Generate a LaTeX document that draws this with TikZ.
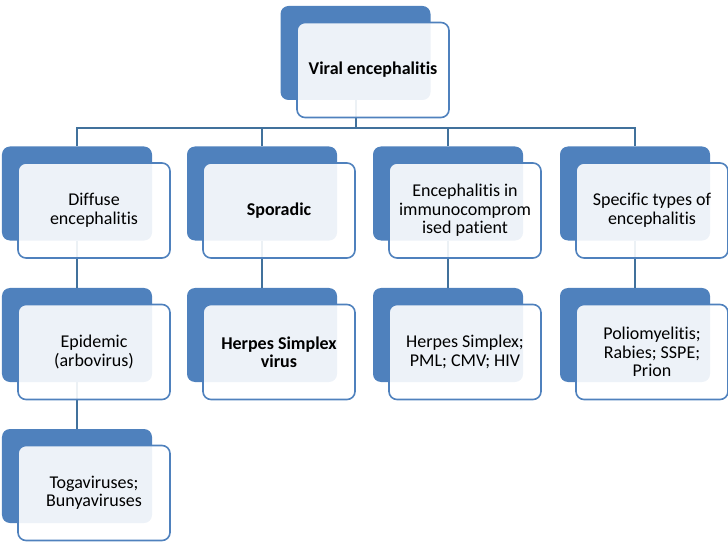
\documentclass[tikz,border=0pt]{standalone}
\usepackage{fontspec}
\setmainfont{Carlito}[Ligatures=NoCommon]
\usetikzlibrary{positioning, calc}
\definecolor{accentblue}{RGB}{79,129,189}
\definecolor{linkblue}{RGB}{65,113,156}
\tikzset{
    backbox/.style={
        rectangle, fill=accentblue,
        rounded corners=8bp,
        minimum width=150bp, minimum height=94bp,
        inner sep=0pt
    },
    frontbox/.style={
        rectangle, draw=accentblue, line width=1.6bp,
        fill=white, fill opacity=0.9, text opacity=1,
        rounded corners=8bp,
        minimum width=152bp, minimum height=95bp,
        align=center, font=\fontsize{18bp}{18.5bp}\selectfont
    },
    link/.style={
        draw=linkblue, line width=2bp
    }
}

\begin{document}
\begin{tikzpicture}[
    x=1bp, y=-1bp
]
\useasboundingbox (0,0) rectangle (728,546);

\node[backbox] (viralbk) at (355.5,53) {};

\node[backbox] (diffusebk) at (77,193.5) {};
\node[backbox] (sporadicbk) at (262,193.5) {};
\node[backbox] (immunobk) at (448,193.5) {};
\node[backbox] (specificbk) at (635,193.5) {};

\node[backbox] (epidemicbk) at (77,335) {};
\node[backbox] (hsvbk) at (262,335) {};
\node[backbox] (opportbk) at (448,335) {};
\node[backbox] (poliobk) at (635,335) {};

\node[backbox] (togabk) at (77,476) {};

\draw[link] (viralbk.south) -- ++(0,28) -| (diffusebk.north);
\draw[link] (viralbk.south) -- ++(0,28) -| (sporadicbk.north);
\draw[link] (viralbk.south) -- ++(0,28) -| (immunobk.north);
\draw[link] (viralbk.south) -- ++(0,28) -| (specificbk.north);

\draw[link] (diffusebk.south) -- (epidemicbk.north);
\draw[link] (sporadicbk.south) -- (hsvbk.north);
\draw[link] (immunobk.south) -- (opportbk.north);
\draw[link] (specificbk.south) -- (poliobk.north);
\draw[link] (epidemicbk.south) -- (togabk.north);

\node[frontbox] (viral) at ($(viralbk)+(17.5,17)$) {\textbf{Viral encephalitis}};

\node[frontbox] (diffuse) at ($(diffusebk)+(17,17)$) {Diffuse\\encephalitis};
\node[frontbox] (sporadic) at ($(sporadicbk)+(17,17)$) {\textbf{Sporadic}};
\node[frontbox] (immuno) at ($(immunobk)+(17,17)$) {Encephalitis in\\immunocomprom\\ised patient};
\node[frontbox] (specific) at ($(specificbk)+(17,17)$) {Specific types of\\encephalitis};

\node[frontbox] (epidemic) at ($(epidemicbk)+(17,17)$) {Epidemic\\(arbovirus)};
\node[frontbox] (hsv) at ($(hsvbk)+(17,17)$) {\textbf{Herpes Simplex}\\\textbf{virus}};
\node[frontbox] (opport) at ($(opportbk)+(17,17)$) {Herpes Simplex;\\PML; CMV; HIV};
\node[frontbox] (polio) at ($(poliobk)+(17,17)$) {Poliomyelitis;\\Rabies; SSPE;\\Prion};

\node[frontbox] (toga) at ($(togabk)+(17,17)$) {Togaviruses;\\Bunyaviruses};

\end{tikzpicture}
\end{document}
